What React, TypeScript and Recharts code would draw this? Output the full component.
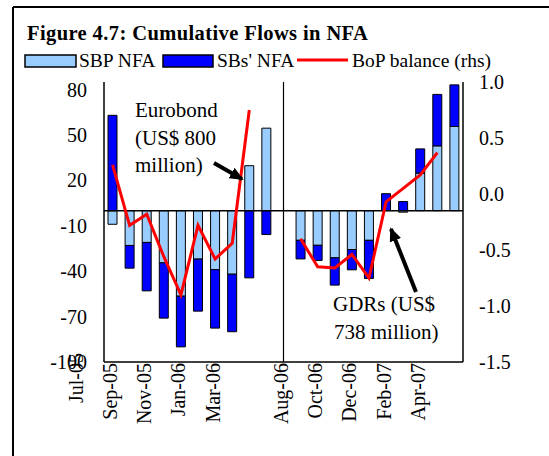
import React from 'react';
import { ComposedChart, Bar, Line, XAxis, YAxis, ReferenceLine } from 'recharts';

// months of FY06 and FY07 (Jul-Apr), with an empty slot between the two years
const periods = [
  'Jul-05', 'Aug-05', 'Sep-05', 'Oct-05', 'Nov-05', 'Dec-05', 'Jan-06', 'Feb-06', 'Mar-06', 'Apr-06',
  ' ',
  'Jul-06', 'Aug-06', 'Sep-06', 'Oct-06', 'Nov-06', 'Dec-06', 'Jan-07', 'Feb-07', 'Mar-07', 'Apr-07',
];

// US$ million
const sbpNfa = [-9, -23, -21, -34.5, -56.5, -32, -39, -42, 29.7, 54.5, null, -19.6, -22.9, -31.2, -25.7, -19.6, 0, -1, 24.8, 42.8, 55.6];
const sbsNfa = [63, -15, -32, -36.5, -33.5, -34.4, -38.6, -38, -44.4, -15.8, null, -12.3, -10, -18, -13.4, -25.2, 11.2, 6, 16, 34, 27.5];
// US$ billion (rhs)
const bopBalance = [0.26, -0.28, -0.18, -0.56, -0.9, -0.28, -0.58, -0.44, 0.75, null, null, -0.4, -0.65, -0.66, -0.54, -0.75, -0.07, 0.05, 0.17, 0.37, null];

const leftTicks = [-100, -70, -40, -10, 20, 50, 80];
const rightTicks = [-1.5, -1.0, -0.5, 0, 0.5, 1.0];

const data = periods.map((period, i) => ({
  period,
  sbp: sbpNfa[i],
  sbs: sbsNfa[i],
  bop: bopBalance[i],
}));

const FONT = '"Liberation Serif", "Times New Roman", serif';
const W = 549;
const H = 456;
const PLOT_LEFT = 104;
const PLOT_RIGHT = 463;
const BAND = (PLOT_RIGHT - PLOT_LEFT) / periods.length;

// the original prints each month label two slots to the left of its bar
const MonthTick = (props: any) => {
  const { x, y, payload, index } = props;
  const label = String(payload.value).trim();
  if (!label) return null;
  const lift = index === 0 ? 10 : 0;
  return (
    <g transform={`translate(${x - 2 * BAND - 2.5},${y})`}>
      <text transform="rotate(-90)" x={lift} dy="0.35em" textAnchor="end" fontSize={20} fontFamily={FONT} fill="#000">
        {label}
      </text>
    </g>
  );
};

const App: React.FC = () => {
  return (
    <div style={{ position: 'absolute', left: 0, top: 0, width: W, height: H, background: '#fff', fontFamily: FONT }}>
      <ComposedChart
        width={W}
        height={H}
        data={data}
        stackOffset="sign"
        margin={{ top: 82, right: 6, bottom: 14, left: 14 }}
      >
        <XAxis
          dataKey="period"
          interval={1}
          tickLine={false}
          tickSize={0}
          tickMargin={1}
          height={80}
          axisLine={{ stroke: '#000', strokeWidth: 1.5 }}
          tick={<MonthTick />}
        />
        <XAxis xAxisId="top" dataKey="period" orientation="top" height={0} tick={false} tickLine={false} axisLine={{ stroke: '#000', strokeWidth: 1.5 }} />
        <YAxis
          yAxisId="left"
          domain={[-100, 85]}
          ticks={leftTicks}
          width={90}
          tickLine={false}
          tickSize={0}
          tickMargin={17}
          axisLine={{ stroke: '#000', strokeWidth: 1.5 }}
          tick={{ fontSize: 20, fill: '#000', fontFamily: FONT }}
        />
        <YAxis
          yAxisId="right"
          orientation="right"
          domain={[-1.5, 1.0]}
          ticks={rightTicks}
          width={80}
          tickLine={false}
          tickSize={0}
          tickMargin={16}
          axisLine={{ stroke: '#000', strokeWidth: 1.5 }}
          tickFormatter={(v: number) => v.toFixed(1)}
          tick={{ fontSize: 20, fill: '#000', fontFamily: FONT }}
        />
        <Bar yAxisId="left" dataKey="sbp" stackId="nfa" fill="#99CCFF" stroke="#000" strokeWidth={1} barSize={9} isAnimationActive={false} />
        <Bar yAxisId="left" dataKey="sbs" stackId="nfa" fill="#0000FF" stroke="#000" strokeWidth={1} barSize={9} isAnimationActive={false} />
        <ReferenceLine yAxisId="left" y={0} stroke="#000" strokeWidth={1.5} />
        <ReferenceLine yAxisId="left" x=" " stroke="#000" strokeWidth={1.2} />
        <Line yAxisId="right" dataKey="bop" type="linear" stroke="#FF0000" strokeWidth={3} dot={false} connectNulls={false} isAnimationActive={false} />
      </ComposedChart>

      {/* frame, title, legend and notes */}
      <svg width={W} height={H} style={{ position: 'absolute', left: 0, top: 0, pointerEvents: 'none' }} fontFamily={FONT}>
        <defs>
          <marker id="head" markerWidth="14" markerHeight="12" refX="12" refY="6" orient="auto" markerUnits="userSpaceOnUse">
            <path d="M0,0 L14,6 L0,12 Z" fill="#000" />
          </marker>
        </defs>
        <line x1={13} y1={7} x2={W} y2={7} stroke="#000" strokeWidth={2} />
        <line x1={13} y1={7} x2={13} y2={H} stroke="#000" strokeWidth={2} />

        <text x={27} y={40} fontSize={20.5} fontWeight="bold" letterSpacing={0.4}>Figure 4.7: Cumulative Flows in NFA</text>

        <rect x={25} y={55} width={51} height={12} fill="#99CCFF" stroke="#000" strokeWidth={1.5} />
        <text x={79} y={67} fontSize={19.5}>SBP NFA</text>
        <rect x={163} y={55} width={50} height={12} fill="#0000FF" stroke="#000" strokeWidth={1.5} />
        <text x={217} y={67} fontSize={19.5}>SBs' NFA</text>
        <line x1={297} y1={60} x2={348} y2={60} stroke="#FF0000" strokeWidth={3} />
        <text x={352} y={67} fontSize={19.5}>BoP balance (rhs)</text>

        <text x={135} y={117} fontSize={21}>Eurobond</text>
        <text x={135} y={145} fontSize={21}>(US$ 800</text>
        <text x={135} y={172} fontSize={21}>million)</text>
        <line x1={214} y1={163} x2={242} y2={179} stroke="#000" strokeWidth={4} markerEnd="url(#head)" />

        <text x={333} y={311} fontSize={21}>GDRs (US$</text>
        <text x={334} y={339} fontSize={21}>738 million)</text>
        <line x1={416} y1={292} x2={391} y2={229} stroke="#000" strokeWidth={4} markerEnd="url(#head)" />
      </svg>
    </div>
  );
};

export default App;
